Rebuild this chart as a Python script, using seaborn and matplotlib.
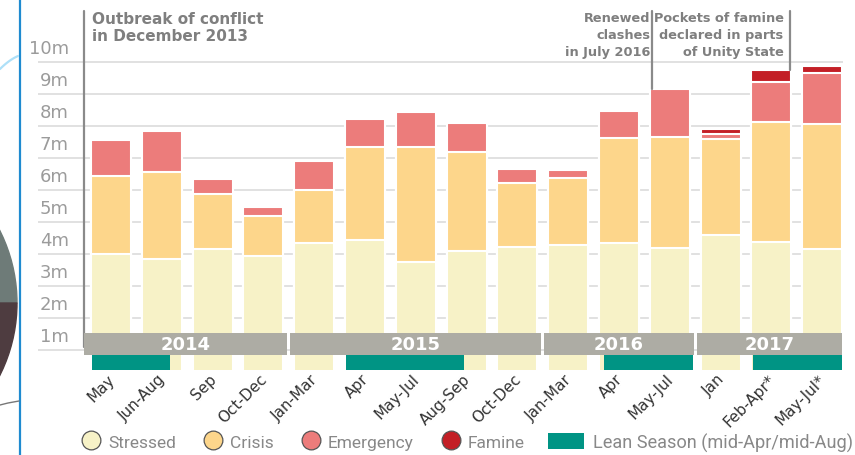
import numpy as np
import pandas as pd
import matplotlib
matplotlib.use("Agg")
import matplotlib.pyplot as plt
import seaborn as sns
from matplotlib.patches import Rectangle, Wedge, Patch
from matplotlib.lines import Line2D
from matplotlib import transforms

# ---------------- data ----------------
periods = ["May", "Jun-Aug", "Sep", "Oct-Dec", "Jan-Mar", "Apr", "May-Jul",
           "Aug-Sep", "Oct-Dec", "Jan-Mar", "Apr", "May-Jul", "Jan",
           "Feb-Apr*", "May-Jul*"]
years = ["2014", "2015", "2016", "2017"]
year_counts = [4, 5, 3, 3]
stressed = [4.00, 3.84, 4.15, 3.93, 4.33, 4.45, 3.76, 4.10, 4.23, 4.27, 4.33, 4.20, 4.60, 4.38, 4.17]
crisis = [2.45, 2.72, 1.74, 1.25, 1.66, 2.88, 3.58, 3.10, 1.98, 2.10, 3.31, 3.46, 2.99, 3.74, 3.90]
emergency = [1.11, 1.27, 0.45, 0.29, 0.92, 0.89, 1.10, 0.90, 0.44, 0.26, 0.83, 1.49, 0.16, 1.26, 1.58]
famine = [0, 0, 0, 0, 0, 0, 0, 0, 0, 0, 0, 0, 0.15, 0.37, 0.23]
# lean season (mid-Apr / mid-Aug) spans, in period-axis units
lean_spans = [(-0.375, 1.16), (4.625, 6.95), (9.70, 11.46), (12.64, 14.39)]
y_values = list(range(1, 11))
y_labels = [f"{v}m" for v in y_values]
phase_labels = ["Stressed", "Crisis", "Emergency", "Famine"]
lean_label = "Lean Season (mid-Apr/mid-Aug)"
event_texts = ["Outbreak of conflict\nin December 2013",
               "Renewed\nclashes\nin July 2016",
               "Pockets of famine\ndeclared in parts\nof Unity State"]

# ---------------- style ----------------
C_STRESSED = "#f7f2c7"
C_CRISIS = "#fdd68b"
C_EMERG = "#ec7c7b"
C_FAMINE = "#c31f26"
C_LEAN = "#009484"
C_BAND = "#adaca4"
C_ANN = "#7f7f7f"

sns.set_theme(style="white")
plt.rcParams["font.family"] = ["DejaVu Sans"]

W, H = 855, 456
fig = plt.figure(figsize=(W / 100, H / 100), dpi=100)

# background decorations (pixel coordinate axes)
bg = fig.add_axes([0, 0, 1, 1], zorder=-1)
bg.set_xlim(0, W)
bg.set_ylim(H, 0)
bg.axis("off")
bg.add_patch(Wedge((-144, 304), 161, 180, 360, color="#6e7b78"))
bg.add_patch(Wedge((-144, 304), 161, 0, 180, color="#4e3c40"))
bg.plot([20, 20], [0, H], color="#1f8bd0", lw=1.6)
t = np.linspace(0, 1, 20)
bg.plot(18 * t, 70 - 18 * t + 5 * t * t, color="#aee0f8", lw=1.6)
bg.plot([0, 8, 19], [406, 404, 402], color="#777777", lw=1.0)

# main axes
ax_left, ax_right, ax_top, ax_bottom = 38, 843, 0, 370.7
ax = fig.add_axes([ax_left / W, 1 - ax_bottom / H, (ax_right - ax_left) / W, (ax_bottom - ax_top) / H])
ax.patch.set_alpha(0)

df = pd.DataFrame({"pos": np.arange(len(periods)),
                   "s": stressed, "c": crisis, "e": emergency, "f": famine})
df["sc"] = df["s"] + df["c"]
df["sce"] = df["sc"] + df["e"]
df["total"] = df["sce"] + df["f"]

layers = [("total", C_FAMINE), ("sce", C_EMERG), ("sc", C_CRISIS), ("s", C_STRESSED)]
for col, colr in layers:
    sns.barplot(data=df, x="pos", y=col, color=colr, saturation=1, width=0.79,
                edgecolor="white", linewidth=1.5, errorbar=None, ax=ax, zorder=2)

ax.set_xlim(-1.437, 14.41)
ax.set_ylim(0.384, 11.97)

# grid + y labels
ax.set_yticks(y_values)
ax.set_yticklabels([])
ax.set_yticks([v + 0.5 for v in y_values], minor=True)
ax.set_yticklabels(y_labels, minor=True)
ax.grid(axis="y", which="major", color="#dcdcdc", lw=1.2)
ax.grid(axis="x", visible=False)
ax.set_axisbelow(True)
ax.tick_params(axis="y", which="both", length=0)
ax.tick_params(axis="y", which="minor", pad=-22.3, labelsize=13, labelcolor="#9b9b9b")
for lab in ax.get_yticklabels(minor=True):
    lab.set_horizontalalignment("right")

# x labels
ax.set_xticks(np.arange(len(periods)))
ax.set_xticklabels(periods, rotation=45, ha="right", va="top",
                   rotation_mode="anchor", fontsize=11, color="#333333")
ax.tick_params(axis="x", length=0, pad=1)
off = transforms.ScaledTranslation(-4 / 100, 0, fig.dpi_scale_trans)
for lab in ax.get_xticklabels():
    lab.set_transform(lab.get_transform() + off)
ax.set_xlabel("")
ax.set_ylabel("")
for sp in ax.spines.values():
    sp.set_visible(False)

# year bands
band_lo, band_hi = 0.84, 1.53
start = 0
for yr, n in zip(years, year_counts):
    x0 = start - 0.5 + 0.03
    x1 = start + n - 0.5 - 0.03
    if start == 0:
        x0 = -0.53
    if start + n == len(periods):
        x1 = 14.39
    ax.add_patch(Rectangle((x0, band_lo), x1 - x0, band_hi - band_lo,
                           color=C_BAND, zorder=5, lw=0))
    ax.text((x0 + x1) / 2, (band_lo + band_hi) / 2, yr, ha="center", va="center",
            color="white", fontsize=13, fontweight="bold", zorder=6)
    start += n

# lean seasons
for a, b in lean_spans:
    ax.add_patch(Rectangle((a, 0.384), b - a, band_lo - 0.384,
                           color=C_LEAN, zorder=5, lw=0))

# event annotations
y_top = 11.6
ax.plot([-0.53, -0.53], [y_top, 1.1], color="#8a8a8a", lw=1.6, zorder=4)
ax.text(-0.37, y_top - 0.02, event_texts[0], ha="left", va="top", fontsize=11,
        fontweight="bold", color=C_ANN, linespacing=1.1)
ax.plot([10.65, 10.65], [y_top, df["total"].iloc[11]], color="#8a8a8a", lw=1.6, zorder=4)
ax.text(10.62, y_top - 0.02, event_texts[1], ha="right", va="top", fontsize=9.3,
        fontweight="bold", color=C_ANN, linespacing=1.4, multialignment="right")
ax.plot([13.36, 13.36], [y_top, df["total"].iloc[13]], color="#8a8a8a", lw=1.6, zorder=4)
ax.text(13.24, y_top - 0.02, event_texts[2], ha="right", va="top", fontsize=9.3,
        fontweight="bold", color=C_ANN, linespacing=1.4, multialignment="right")

# legends
leg_y = 1 - 443 / H
prop = {"family": "Roboto", "size": 12.5}
fs_px = 12.5 * 100 / 72
handles = [Line2D([], [], ls="", marker="o", markersize=13.5, markerfacecolor=c,
                  markeredgecolor="#555555", markeredgewidth=0.9)
           for c in [C_STRESSED, C_CRISIS, C_EMERG, C_FAMINE]]
leg1 = fig.legend(handles, phase_labels, loc="center left", bbox_to_anchor=(80 / W, leg_y),
                  ncol=4, frameon=False, handlelength=22 / fs_px, handletextpad=6 / fs_px,
                  columnspacing=26 / fs_px, borderpad=0, borderaxespad=0, prop=prop)
for txt in leg1.get_texts():
    txt.set_color("#888888")
prop2 = {"family": "Roboto", "size": 13.1}
fs2_px = 13.1 * 100 / 72
leg2 = fig.legend([Patch(facecolor=C_LEAN, edgecolor="none")], [lean_label],
                  loc="center left", bbox_to_anchor=(548 / W, leg_y),
                  frameon=False, handlelength=36 / fs2_px, handleheight=18 / fs2_px,
                  handletextpad=9 / fs2_px, borderpad=0, borderaxespad=0, prop=prop2)
for txt in leg2.get_texts():
    txt.set_color("#888888")

fig.savefig("out.png", dpi=100)
